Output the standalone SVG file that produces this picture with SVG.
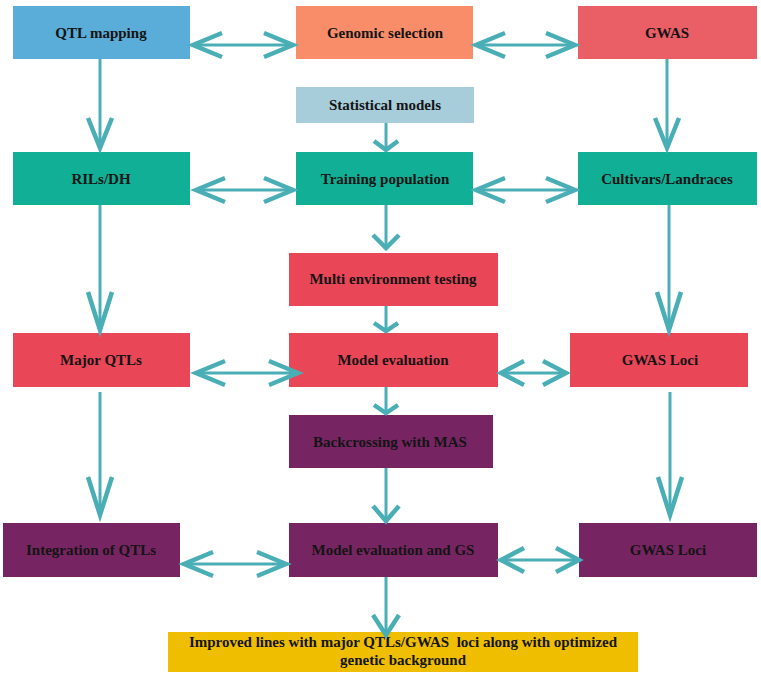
<svg xmlns="http://www.w3.org/2000/svg" width="761" height="678" viewBox="0 0 761 678">
<style>
  .lbl { font-family: "Liberation Serif", "Times New Roman", serif; font-weight: bold; font-size: 15px; fill: #141414; text-anchor: middle; white-space: pre; }
  .blue { fill: #5AADD8; }
  .salmon { fill: #F98C69; }
  .coral { fill: #EA5E66; }
  .light { fill: #A8CDDA; }
  .teal { fill: #10AF96; }
  .red { fill: #E94658; }
  .purple { fill: #772462; }
  .gold { fill: #F0BE00; }
  .ln { stroke: #4AAEB6; stroke-width: 3; fill: none; }
  .hd { stroke: #4AAEB6; stroke-width: 4.5; fill: none; stroke-linejoin: miter; stroke-linecap: butt; }
</style>
<rect width="761" height="678" fill="#ffffff"/>

<g id="qtl-mapping"><rect class="blue" x="13" y="6" width="177" height="53"/><text class="lbl" x="101" y="38">QTL mapping</text></g>
<g id="genomic-selection"><rect class="salmon" x="296" y="6" width="177" height="53"/><text class="lbl" x="385" y="38">Genomic selection</text></g>
<g id="gwas"><rect class="coral" x="578" y="6" width="179" height="53"/><text class="lbl" x="667" y="38">GWAS</text></g>
<g id="statistical-models"><rect class="light" x="296" y="87" width="178" height="36"/><text class="lbl" x="385" y="110">Statistical models</text></g>

<g id="rils-dh"><rect class="teal" x="13" y="152" width="177" height="53"/><text class="lbl" x="101" y="184">RILs/DH</text></g>
<g id="training-population"><rect class="teal" x="296" y="152" width="177" height="53"/><text class="lbl" x="385" y="184">Training population</text></g>
<g id="cultivars-landraces"><rect class="teal" x="578" y="152" width="179" height="53"/><text class="lbl" x="667" y="184">Cultivars/Landraces</text></g>

<g id="multi-environment"><rect class="red" x="289" y="253" width="209" height="53"/><text class="lbl" x="393" y="284">Multi environment testing</text></g>

<g id="major-qtls"><rect class="red" x="13" y="333" width="177" height="54"/><text class="lbl" x="101" y="365">Major QTLs</text></g>
<g id="model-evaluation"><rect class="red" x="289" y="333" width="209" height="54"/><text class="lbl" x="393" y="365">Model evaluation</text></g>
<g id="gwas-loci-1"><rect class="red" x="570" y="333" width="178" height="54"/><text class="lbl" x="660" y="365">GWAS Loci</text></g>

<g id="backcrossing"><rect class="purple" x="289" y="415" width="204" height="53"/><text class="lbl" x="390" y="447">Backcrossing with MAS</text></g>

<g id="integration-qtls"><rect class="purple" x="3" y="523" width="177" height="54"/><text class="lbl" x="91" y="555">Integration of QTLs</text></g>
<g id="model-evaluation-gs"><rect class="purple" x="289" y="523" width="209" height="54"/><text class="lbl" x="393" y="555">Model evaluation and GS</text></g>
<g id="gwas-loci-2"><rect class="purple" x="579" y="523" width="178" height="54"/><text class="lbl" x="668" y="555">GWAS Loci</text></g>

<g id="improved-lines"><rect class="gold" x="168" y="632" width="470" height="40"/><text class="lbl" x="403" y="647">Improved lines with major QTLs/GWAS  loci along with optimized</text><text class="lbl" x="403" y="665">genetic background</text></g>

<g id="connectors">
  <line class="ln" x1="192" y1="45" x2="294" y2="45"/>
  <polyline class="hd" points="222,33 193,45 222,57"/>
  <polyline class="hd" points="264,33 293,45 264,57"/>
  <line class="ln" x1="475" y1="45" x2="576" y2="45"/>
  <polyline class="hd" points="505,33 476,45 505,57"/>
  <polyline class="hd" points="546,33 575,45 546,57"/>
  <line class="ln" x1="195" y1="190" x2="294" y2="190"/>
  <polyline class="hd" points="225,178 196,190 225,202"/>
  <polyline class="hd" points="264,178 293,190 264,202"/>
  <line class="ln" x1="475" y1="190" x2="576" y2="190"/>
  <polyline class="hd" points="505,178 476,190 505,202"/>
  <polyline class="hd" points="546,178 575,190 546,202"/>
  <line class="ln" x1="195" y1="373" x2="299" y2="373"/>
  <polyline class="hd" points="225,361 196,373 225,385"/>
  <polyline class="hd" points="269,361 298,373 269,385"/>
  <line class="ln" x1="500" y1="373" x2="567" y2="373"/>
  <polyline class="hd" points="524,361 501,373 524,385"/>
  <polyline class="hd" points="543,361 566,373 543,385"/>
  <line class="ln" x1="183" y1="564" x2="287" y2="564"/>
  <polyline class="hd" points="213,552 184,564 213,576"/>
  <polyline class="hd" points="257,552 286,564 257,576"/>
  <line class="ln" x1="500" y1="560" x2="580" y2="560"/>
  <polyline class="hd" points="524,548 501,560 524,572"/>
  <polyline class="hd" points="556,548 579,560 556,572"/>

  <line class="ln" x1="100" y1="59" x2="100" y2="148"/>
  <polyline class="hd" points="88,118 100,148 112,118"/>
  <line class="ln" x1="100" y1="205" x2="100" y2="330"/>
  <polyline class="hd" points="88,292 100,330 112,292"/>
  <line class="ln" x1="100" y1="392" x2="100" y2="515"/>
  <polyline class="hd" points="88,477 100,515 112,477"/>

  <line class="ln" x1="667" y1="59" x2="667" y2="148"/>
  <polyline class="hd" points="655,118 667,148 679,118"/>
  <line class="ln" x1="669" y1="205" x2="669" y2="330"/>
  <polyline class="hd" points="657,292 669,330 681,292"/>
  <line class="ln" x1="670" y1="392" x2="670" y2="515"/>
  <polyline class="hd" points="658,477 670,515 682,477"/>

  <line class="ln" x1="386" y1="123" x2="386" y2="150"/>
  <polyline class="hd" points="374,141 386,150 398,141"/>
  <line class="ln" x1="386" y1="205" x2="386" y2="248"/>
  <polyline class="hd" points="373,235 386,248 399,235"/>
  <line class="ln" x1="386" y1="306" x2="386" y2="331"/>
  <polyline class="hd" points="374,323 386,331 398,323"/>
  <line class="ln" x1="386" y1="387" x2="386" y2="413"/>
  <polyline class="hd" points="374,405 386,413 398,405"/>
  <line class="ln" x1="386" y1="468" x2="386" y2="521"/>
  <polyline class="hd" points="373,506 386,521 399,506"/>
  <line class="ln" x1="386" y1="577" x2="386" y2="635"/>
  <polyline class="hd" points="373,615 386,635 399,615"/>
</g>
</svg>
